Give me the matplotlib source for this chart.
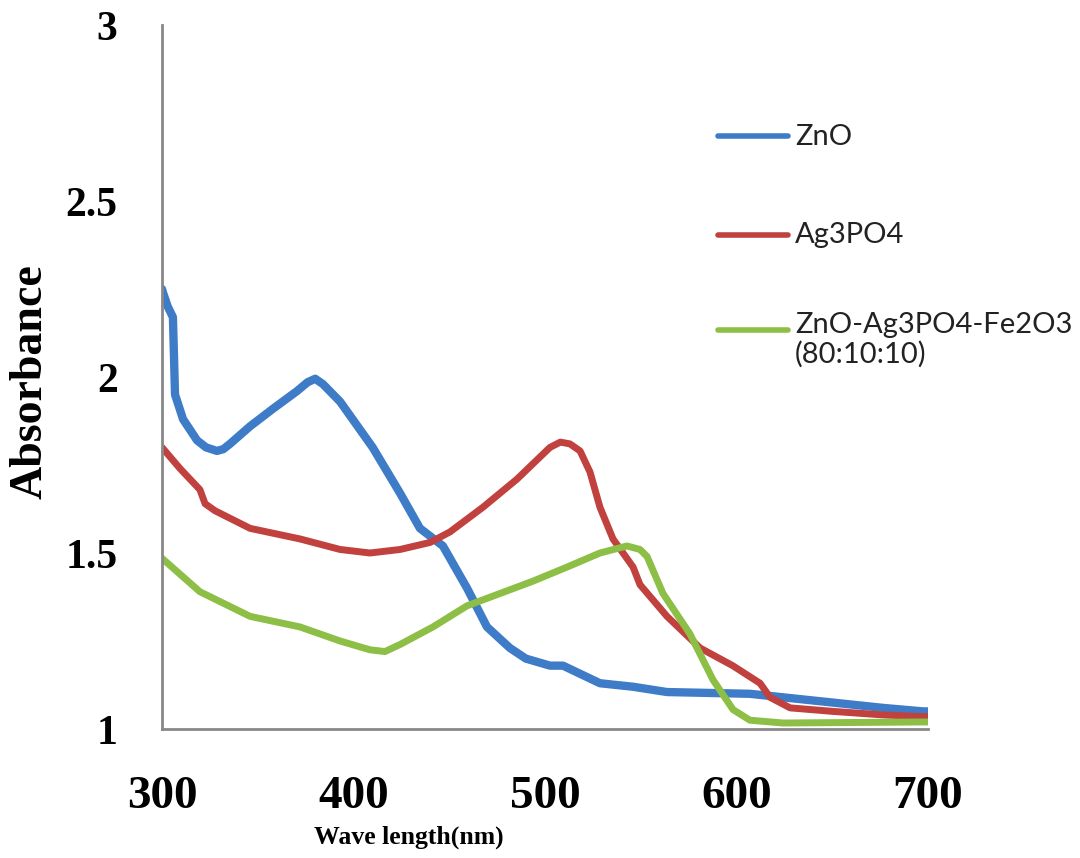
import matplotlib
matplotlib.use("Agg")
import matplotlib.pyplot as plt
from matplotlib.lines import Line2D

# ZnO
zno_x = [300, 300.5, 303, 305.7, 306.8, 311, 318.3, 323, 328.7, 332, 335.5, 346, 358, 370.5, 376,
         380, 384, 393, 410, 424.3, 434.7, 446.7, 459.3, 469.7, 481.7, 490, 502.6, 509.4, 528.7,
         546, 563.7, 607, 624.3, 650.4, 676.5, 697.4, 700]
zno_y = [2.25, 2.24, 2.20, 2.17, 1.95, 1.88, 1.82, 1.80, 1.79, 1.795, 1.81, 1.86, 1.91, 1.96, 1.985,
         1.995, 1.98, 1.93, 1.80, 1.67, 1.57, 1.52, 1.40, 1.29, 1.23, 1.20, 1.18, 1.18, 1.13,
         1.12, 1.105, 1.10, 1.09, 1.075, 1.06, 1.05, 1.05]

# Ag3PO4
ag_x = [300, 309.4, 319.8, 322.5, 327.7, 346, 372, 393, 408.6, 424.3, 440, 450.4, 467.6, 485.4,
        502.6, 508, 513, 518.3, 523.5, 528.7, 535.5, 546, 549.6, 563.7, 581, 598, 612.3, 617.5, 628,
        650.4, 676.5, 697.4, 700]
ag_y = [1.80, 1.74, 1.68, 1.64, 1.62, 1.57, 1.54, 1.51, 1.50, 1.51, 1.53, 1.56, 1.63, 1.71,
        1.80, 1.815, 1.81, 1.79, 1.73, 1.63, 1.54, 1.46, 1.41, 1.32, 1.23, 1.18, 1.13, 1.09, 1.06,
        1.05, 1.04, 1.035, 1.035]

# ZnO-Ag3PO4-Fe2O3 (80:10:10)
mix_x = [300, 319.8, 346, 372, 393, 408.6, 416.4, 424.3, 441.5, 459.3, 476.5, 493.7, 511.5, 528.7,
         542.8, 549.6, 553.3, 561.6, 575.7, 587.7, 598.2, 607, 624.3, 697.4, 700]
mix_y = [1.485, 1.39, 1.32, 1.29, 1.25, 1.225, 1.22, 1.24, 1.29, 1.35, 1.385, 1.42, 1.46, 1.50,
         1.52, 1.51, 1.49, 1.385, 1.27, 1.14, 1.055, 1.025, 1.017, 1.02, 1.02]

labels = ["ZnO", "Ag3PO4", "ZnO-Ag3PO4-Fe2O3\n(80:10:10)"]
colors = ["#3F7CC8", "#C0413E", "#8DBE46"]

x_ticks = [300, 400, 500, 600, 700]
y_ticks = [1, 1.5, 2, 2.5, 3]
y_ticklabels = ["1", "1.5", "2", "2.5", "3"]

W, H = 1080, 858
fig = plt.figure(figsize=(W / 100, H / 100), dpi=100)
ax = fig.add_axes([162 / W, 1 - 729 / H, 766 / W, 704 / H])

series = [(zno_x, zno_y, 6), (ag_x, ag_y, 5), (mix_x, mix_y, 5)]
for (xs, ys, lw), lab, c in zip(series, labels, colors):
    ax.plot(xs, ys, color=c, lw=lw, label=lab, solid_capstyle="round", solid_joinstyle="round")

ax.set_xlim(300, 700)
ax.set_ylim(1, 3)
ax.set_xticks(x_ticks)
ax.set_yticks(y_ticks)
ax.set_yticklabels(y_ticklabels)
for s in ["top", "right"]:
    ax.spines[s].set_visible(False)
for s in ["left", "bottom"]:
    ax.spines[s].set_color("#888888")
    ax.spines[s].set_linewidth(2)
ax.tick_params(length=0)
ax.tick_params(axis="x", pad=34)
ax.tick_params(axis="y", pad=32)
for t in ax.get_xticklabels():
    t.set_fontfamily("Liberation Serif")
    t.set_fontweight("bold")
    t.set_fontsize(34)
for t in ax.get_yticklabels():
    t.set_fontfamily("Liberation Serif")
    t.set_fontweight("bold")
    t.set_fontsize(30)

ax.set_xlabel("Wave length(nm)", fontfamily="Liberation Serif", fontweight="bold", fontsize=18.5)
ax.xaxis.set_label_coords((409 - 162) / 766, (729 - 826) / 704)
ax.set_ylabel("Absorbance", fontfamily="Liberation Serif", fontweight="bold", fontsize=33)
ax.yaxis.set_label_coords((52 - 162) / 766, (729 - 382) / 704)

# legend (drawn at fixed figure positions, as in the reference)
handle_y = [136, 235, 330]
text_y = [137, 235, 340]
for c, lab, hy, ty in zip(colors, labels, handle_y, text_y):
    fig.add_artist(Line2D([718 / W, 788 / W], [1 - hy / H, 1 - hy / H], transform=fig.transFigure,
                          color=c, lw=4, solid_capstyle="round"))
    fig.text(795 / W, 1 - ty / H, lab, family="Lato", fontsize=21, color="#222222",
             ha="left", va="center", linespacing=1.15)

fig.savefig("out.png", dpi=100)
